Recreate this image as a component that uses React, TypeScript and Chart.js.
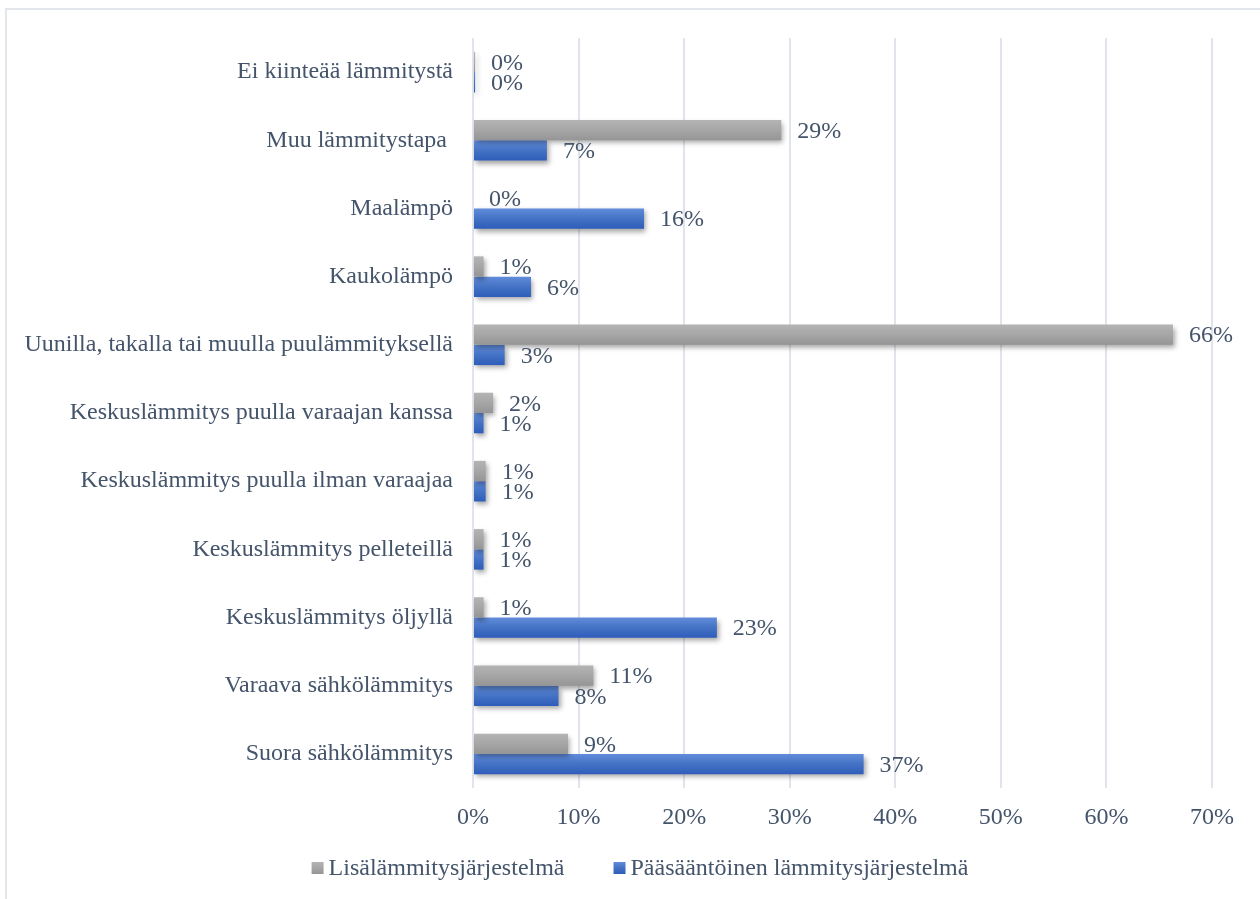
import React, { useEffect, useRef } from "react";
import { Chart, registerables } from "chart.js";

Chart.register(...registerables);

const categories = [
  "Ei kiinteää lämmitystä",
  "Muu lämmitystapa ",
  "Maalämpö",
  "Kaukolämpö",
  "Uunilla, takalla tai muulla puulämmityksellä",
  "Keskuslämmitys puulla varaajan kanssa",
  "Keskuslämmitys puulla ilman varaajaa",
  "Keskuslämmitys pelleteillä",
  "Keskuslämmitys öljyllä",
  "Varaava sähkölämmitys",
  "Suora sähkölämmitys",
];

const seriesNames = ["Lisälämmitysjärjestelmä", "Pääsääntöinen lämmitysjärjestelmä"];

const lisaValues = [0.2, 29.2, 0, 1.0, 66.3, 1.9, 1.2, 1.0, 1.0, 11.4, 9.0];
const paaValues = [0.2, 7.0, 16.2, 5.5, 3.0, 1.0, 1.2, 1.0, 23.1, 8.1, 37.0];

const xTicks = [0, 10, 20, 30, 40, 50, 60, 70];

const FONT_FAMILY = '"Liberation Serif", "Times New Roman", serif';
const FONT_SIZE = 24;
const TEXT_COLOR = "#44546A";
const GRID_COLOR = "#E1E5EB";

const GRADIENTS: Record<number, [string, string, string]> = {
  0: ["#B4B4B4", "#A6A6A6", "#959595"],
  1: ["#628CDB", "#4472C4", "#2E5DBB"],
};

function makeGrad(ctx: CanvasRenderingContext2D, y0: number, y1: number, idx: number) {
  const g = ctx.createLinearGradient(0, y0, 0, y1);
  const c = GRADIENTS[idx];
  g.addColorStop(0, c[0]);
  g.addColorStop(0.5, c[1]);
  g.addColorStop(1, c[2]);
  return g;
}

const customPlugin = {
  id: "excelLook",
  beforeDraw(chart: any) {
    const ctx = chart.ctx as CanvasRenderingContext2D;
    ctx.save();
    ctx.strokeStyle = "#E3E6EA";
    ctx.lineWidth = 2;
    ctx.beginPath();
    ctx.moveTo(6, chart.height + 2);
    ctx.lineTo(6, 9);
    ctx.lineTo(chart.width + 2, 9);
    ctx.stroke();
    ctx.restore();
  },
  beforeDatasetsDraw(chart: any) {
    const ctx = chart.ctx as CanvasRenderingContext2D;
    chart.data.datasets.forEach((_: any, di: number) => {
      const meta = chart.getDatasetMeta(di);
      meta.data.forEach((el: any) => {
        const { y, height } = el.getProps(["y", "height"], true);
        if (el.options) {
          el.options.backgroundColor = makeGrad(ctx, y - height / 2, y + height / 2, di);
        }
      });
    });
    ctx.save();
    ctx.shadowColor = "rgba(0,0,0,0.35)";
    ctx.shadowBlur = 5;
    ctx.shadowOffsetX = 2;
    ctx.shadowOffsetY = 3;
  },
  afterDatasetsDraw(chart: any) {
    const ctx = chart.ctx as CanvasRenderingContext2D;
    ctx.restore();
    ctx.save();
    ctx.font = `${FONT_SIZE}px ${FONT_FAMILY}`;
    ctx.fillStyle = TEXT_COLOR;
    ctx.textAlign = "left";
    ctx.textBaseline = "middle";
    chart.data.datasets.forEach((ds: any, di: number) => {
      const meta = chart.getDatasetMeta(di);
      meta.data.forEach((el: any, i: number) => {
        const { x, y } = el.getProps(["x", "y"], true);
        const v = ds.data[i] as number;
        ctx.fillText(`${Math.round(v)}%`, x + 16, y + 1.5);
      });
    });

    // legend
    const box = 12;
    const gap = 5;
    const itemGap = 49;
    const widths = chart.data.datasets.map((ds: any) => ctx.measureText(ds.label).width);
    const total = widths.reduce((a: number, w: number) => a + box + gap + w, 0) + itemGap * (widths.length - 1);
    let lx = 640 - total / 2;
    const ly = 868;
    chart.data.datasets.forEach((ds: any, di: number) => {
      ctx.fillStyle = makeGrad(ctx, ly - box / 2, ly + box / 2, di);
      ctx.fillRect(lx, ly - box / 2, box, box);
      ctx.fillStyle = TEXT_COLOR;
      ctx.fillText(ds.label, lx + box + gap, ly + 1);
      lx += box + gap + widths[di] + itemGap;
    });
    ctx.restore();
  },
};

export default function App() {
  const canvasRef = useRef<HTMLCanvasElement | null>(null);

  useEffect(() => {
    const canvas = canvasRef.current;
    if (!canvas) return;
    const chart = new Chart(canvas, {
      type: "bar",
      data: {
        labels: categories,
        datasets: [
          {
            label: seriesNames[0],
            data: lisaValues,
            backgroundColor: () => "#A5A5A5",
            borderWidth: 0,
            categoryPercentage: 0.595,
            barPercentage: 1,
          },
          {
            label: seriesNames[1],
            data: paaValues,
            backgroundColor: () => "#4472C4",
            borderWidth: 0,
            categoryPercentage: 0.595,
            barPercentage: 1,
          },
        ],
      },
      options: {
        indexAxis: "y",
        responsive: false,
        animation: false,
        devicePixelRatio: 1,
        layout: { padding: { left: 0, right: 48, top: 38, bottom: 71 } },
        plugins: {
          legend: { display: false },
          tooltip: { enabled: false },
        },
        scales: {
          y: {
            type: "category",
            grid: { display: false, drawTicks: false },
            border: { display: false },
            ticks: {
              color: TEXT_COLOR,
              font: { family: FONT_FAMILY, size: FONT_SIZE },
              padding: 20,
            },
            afterFit: (s: any) => {
              s.width = 473;
            },
          },
          x: {
            type: "linear",
            min: 0,
            max: 70,
            afterBuildTicks: (s: any) => {
              s.ticks = xTicks.map((v) => ({ value: v }));
            },
            grid: { color: GRID_COLOR, lineWidth: 2, drawTicks: false },
            border: { display: false },
            ticks: {
              color: TEXT_COLOR,
              font: { family: FONT_FAMILY, size: FONT_SIZE },
              padding: 15,
              callback: (v: any) => `${v}%`,
            },
            afterFit: (s: any) => {
              s.height = 40;
            },
          },
        },
      },
      plugins: [customPlugin],
    } as any);
    return () => chart.destroy();
  }, []);

  return (
    <div style={{ position: "absolute", left: 0, top: 0, width: 1260, height: 899, background: "#fff" }}>
      <canvas ref={canvasRef} width={1260} height={899} style={{ display: "block", width: 1260, height: 899 }} />
    </div>
  );
}
